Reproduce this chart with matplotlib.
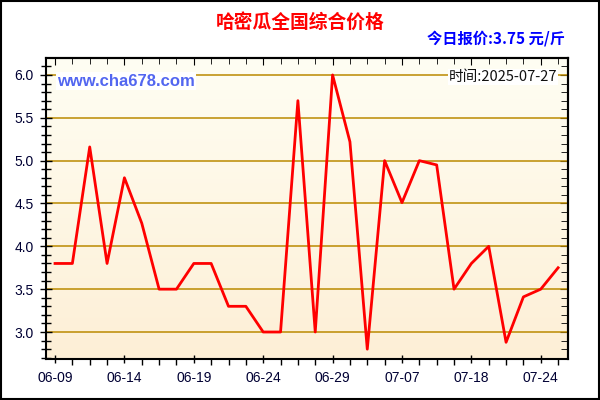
import numpy as np
import matplotlib
matplotlib.use("Agg")
import matplotlib.pyplot as plt
from matplotlib.patches import Rectangle
from matplotlib.ticker import MultipleLocator, FixedLocator

plt.rcParams['font.family'] = ['Liberation Sans', 'Noto Sans CJK SC', 'DejaVu Sans']

title = '哈密瓜全国综合价格'
today_label = '今日报价:3.75 元/斤'
time_label = '时间:2025-07-27'
site_label = 'www.cha678.com'

prices = [3.80, 3.80, 5.16, 3.80, 4.80, 4.27, 3.50, 3.50, 3.80, 3.80,
          3.30, 3.30, 3.00, 3.00, 5.70, 3.00, 6.00, 5.22, 2.80, 5.00,
          4.51, 5.00, 4.95, 3.50, 3.80, 4.00, 2.88, 3.41, 3.50, 3.75]
tick_positions = [0, 4, 8, 12, 16, 20, 24, 28]
tick_labels = ['06-09', '06-14', '06-19', '06-24', '06-29', '07-07', '07-18', '07-24']
y_ticks = [3.0, 3.5, 4.0, 4.5, 5.0, 5.5, 6.0]

x = np.arange(len(prices))

fig = plt.figure(figsize=(6, 4), dpi=100)
fig.patch.set_facecolor('white')
ax = fig.add_axes([46/600, 41/400, 522/600, 301/400])

xlim = (-0.52, 29.57)
ylim = (2.685, 6.198)
ax.set_xlim(*xlim)
ax.set_ylim(*ylim)

# gradient background
grad = np.linspace(0, 1, 256).reshape(-1, 1)
top = np.array([0xFF, 0xFE, 0xF3]) / 255
bot = np.array([0xFD, 0xEF, 0xD6]) / 255
img = top[None, None, :] * (1 - grad[:, :, None]) + bot[None, None, :] * grad[:, :, None]
ax.imshow(img, extent=[xlim[0], xlim[1], ylim[0], ylim[1]], aspect='auto',
          origin='upper', zorder=0)

for yv in y_ticks:
    ax.axhline(yv, color='#BB8A00', lw=1.1, zorder=1)

ax.plot(x, prices, color='#FF0000', lw=2.0, zorder=3)

tick_color = '#000033'
ax.xaxis.set_major_locator(FixedLocator(tick_positions))
ax.set_xticklabels(tick_labels)
ax.xaxis.set_minor_locator(MultipleLocator(1))
ax.yaxis.set_major_locator(FixedLocator(y_ticks))
ax.set_yticklabels([f'{v:.1f}' for v in y_ticks])
ax.yaxis.set_minor_locator(MultipleLocator(0.1))

ax.tick_params(axis='x', which='major', direction='inout', length=6, width=1,
               labelsize=10, labelcolor=tick_color, pad=6)
ax.tick_params(axis='x', which='minor', direction='out', length=4, width=1)
ax.tick_params(axis='y', which='major', direction='inout', length=8, width=1,
               labelsize=10, labelcolor=tick_color, pad=5)
ax.tick_params(axis='y', which='minor', direction='inout', length=7, width=1)
ax.tick_params(top=False, right=False)

for s in ax.spines.values():
    s.set_linewidth(1.5)
    s.set_color('black')

# top and right ticks (inward)
secx = ax.secondary_xaxis('top')
secx.xaxis.set_major_locator(FixedLocator(tick_positions))
secx.xaxis.set_minor_locator(MultipleLocator(1))
secx.tick_params(which='major', direction='in', length=5, labeltop=False)
secx.tick_params(which='minor', direction='in', length=4)
secx.spines['top'].set_linewidth(1.5)
secy = ax.secondary_yaxis('right')
secy.yaxis.set_major_locator(FixedLocator(y_ticks))
secy.yaxis.set_minor_locator(MultipleLocator(0.1))
secy.tick_params(which='major', direction='in', length=6, labelright=False)
secy.tick_params(which='minor', direction='in', length=5)
secy.spines['right'].set_linewidth(1.5)

# texts
fig.text(0.5, 1 - 22/400, title, ha='center', va='center', fontsize=13.5,
         fontweight='bold', color='#FF0000', family=['Noto Sans CJK SC', 'DejaVu Sans'])
fig.text(565/600, 1 - 39/400, today_label, ha='right', va='center', fontsize=11,
         fontweight='bold', color='#0000FF', family=['Noto Sans CJK SC', 'DejaVu Sans'])
fig.text(57/600, 1 - 81/400, site_label, ha='left', va='center', fontsize=12,
         fontweight='bold', color='#5266F0', family=['Liberation Sans', 'DejaVu Sans'],
         bbox=dict(facecolor='white', edgecolor='none', pad=1), zorder=5)
fig.text(557/600, 1 - 77/400, time_label, ha='right', va='center', fontsize=10.5,
         color='#111111', family=['Noto Sans CJK SC', 'DejaVu Sans'],
         bbox=dict(facecolor='white', edgecolor='none', pad=0.5), zorder=5)

fig.patches.append(Rectangle((0.001, 0.002), 0.997, 0.996, transform=fig.transFigure,
                             fill=False, edgecolor='black', lw=1.5))

fig.savefig('out.png', dpi=100)
